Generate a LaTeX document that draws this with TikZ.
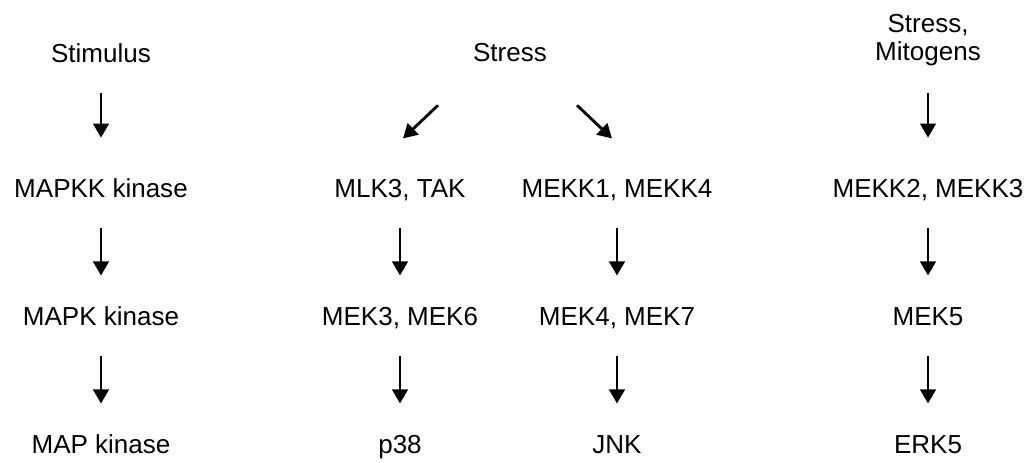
\documentclass[tikz,border=0pt]{standalone}
\usepackage{fontspec}
\setmainfont{Liberation Sans}
\usetikzlibrary{arrows.meta}

\begin{document}
\begin{tikzpicture}[
x=0.025cm, y=-0.025cm,
every node/.style={font=\fontsize{18.5}{20}\selectfont, inner sep=0pt, anchor=base, text height=13pt, text depth=0pt},
arr/.style={-{Triangle[length=10pt, width=11pt]}, line width=2pt, shorten <=22pt, shorten >=22pt},
diag/.style={-{Triangle[length=10pt, width=11pt]}, line width=2pt}
]
\useasboundingbox (0,0) rectangle (1029,462);
\node (stimulus) at (101,62) {Stimulus};
\node (stress) at (510,61) {Stress};
\node (mitogens) at (928,66) [anchor=south, align=center, text height=, text depth=, font=\fontsize{18.5}{20}\selectfont] {Stress,\\Mitogens};
\node (mapkk) at (101,197) {MAPKK kinase};
\node (mlk) at (400,197) {MLK3, TAK};
\node (mekka) at (617,197) {MEKK1, MEKK4};
\node (mekkb) at (928,197) {MEKK2, MEKK3};
\node (mapk) at (101,325) {MAPK kinase};
\node (mekc) at (400,325) {MEK3, MEK6};
\node (mekd) at (617,325) {MEK4, MEK7};
\node (meke) at (928,325) {MEK5};
\node (map) at (101,453) {MAP kinase};
\node (p38) at (400,453) {p38};
\node (jnk) at (617,453) {JNK};
\node (erk) at (928,453) {ERK5};
\draw[arr, shorten >=29pt] (stimulus) -- (mapkk);
\draw[diag] ([shift={(-72,44)}]stress.south) -- ([shift={(3,-40)}]mlk.north);
\draw[diag] ([shift={(67,44)}]stress.south) -- ([shift={(-5,-40)}]mekka.north);
\draw[arr, shorten <=19pt, shorten >=29pt] (mitogens) -- (mekkb);
\draw[arr] (mapkk) -- (mapk);
\draw[arr] (mlk) -- (mekc);
\draw[arr] (mekka) -- (mekd);
\draw[arr] (mekkb) -- (meke);
\draw[arr] (mapk) -- (map);
\draw[arr] (mekc) -- (p38);
\draw[arr] (mekd) -- (jnk);
\draw[arr] (meke) -- (erk);
\end{tikzpicture}
\end{document}
